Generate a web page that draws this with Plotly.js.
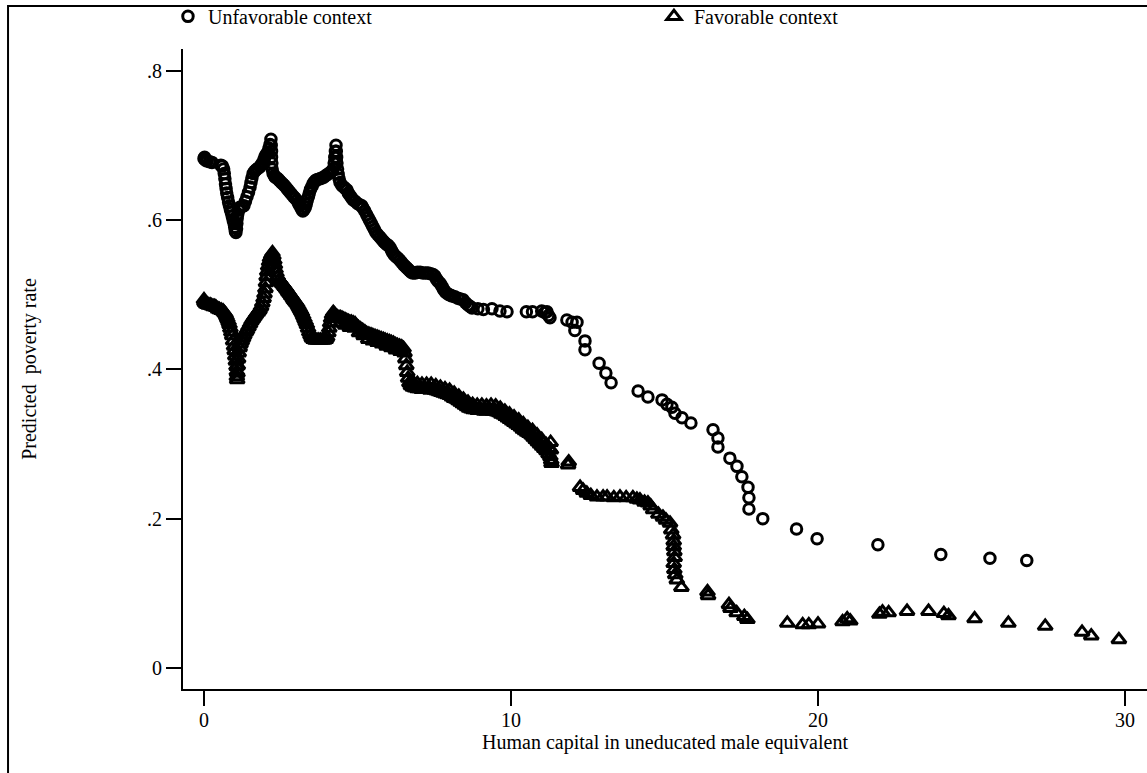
<!DOCTYPE html>
<html>
<head>
<meta charset="utf-8">
<script src="https://cdn.plot.ly/plotly-3.0.1.min.js"></script>
<style>html,body{margin:0;padding:0;background:#fff;}#chart{width:1147px;height:773px;}</style>
</head>
<body>
<div id="chart"></div>
<script>
// Unfavorable context (circles)
const unfavX = [0.00,0.02,0.05,0.10,0.18,0.26,0.55,0.60,0.64,0.66,0.68,0.70,0.72,0.74,0.77,0.80,0.83,0.86,0.89,0.92,0.95,0.98,1.00,1.02,1.04,1.06,1.07,1.08,1.10,1.13,1.17,1.24,1.30,1.35,1.40,1.45,1.50,1.53,1.56,1.60,1.65,1.70,1.76,1.82,1.87,1.92,1.96,1.99,2.03,2.08,2.12,2.15,2.18,2.19,2.20,2.20,2.21,2.22,2.25,2.29,2.32,2.38,2.43,2.47,2.52,2.57,2.62,2.68,2.74,2.80,2.86,2.92,2.97,3.03,3.08,3.12,3.17,3.22,3.26,3.30,3.33,3.36,3.40,3.43,3.47,3.52,3.56,3.60,3.64,3.70,3.78,3.84,3.90,3.96,4.03,4.10,4.16,4.21,4.24,4.26,4.28,4.30,4.31,4.32,4.33,4.35,4.37,4.40,4.43,4.49,4.55,4.60,4.66,4.70,4.75,4.80,4.85,4.92,5.00,5.08,5.14,5.18,5.24,5.30,5.35,5.40,5.45,5.50,5.55,5.60,5.66,5.73,5.79,5.85,5.90,5.95,6.00,6.06,6.11,6.15,6.20,6.25,6.31,6.38,6.44,6.50,6.55,6.60,6.65,6.70,6.75,6.80,6.88,6.95,7.04,7.13,7.22,7.30,7.38,7.46,7.52,7.57,7.62,7.69,7.75,7.80,7.85,7.90,7.97,8.03,8.08,8.17,8.27,8.35,8.44,8.52,8.60,8.67,8.73,8.92,9.10,9.38,9.64,9.87,10.50,10.70,11.00,11.10,11.17,11.22,11.27,11.82,11.99,12.15,12.08,12.41,12.41,12.87,13.09,13.26,14.14,14.46,14.92,15.08,15.24,15.34,15.57,15.86,16.58,16.74,16.74,17.13,17.36,17.52,17.72,17.75,17.75,18.20,19.30,19.97,21.95,24.00,25.60,26.80];
const unfavY = [0.682,0.684,0.680,0.679,0.678,0.677,0.673,0.672,0.668,0.662,0.655,0.648,0.642,0.636,0.630,0.624,0.619,0.614,0.610,0.605,0.600,0.595,0.590,0.585,0.583,0.588,0.595,0.602,0.608,0.613,0.617,0.618,0.619,0.625,0.631,0.637,0.644,0.650,0.656,0.662,0.665,0.667,0.669,0.671,0.674,0.677,0.681,0.685,0.688,0.691,0.696,0.701,0.708,0.700,0.692,0.684,0.676,0.668,0.662,0.659,0.657,0.656,0.654,0.652,0.650,0.648,0.646,0.643,0.640,0.637,0.634,0.631,0.629,0.626,0.622,0.619,0.615,0.612,0.614,0.617,0.621,0.626,0.631,0.636,0.641,0.645,0.649,0.651,0.653,0.654,0.655,0.656,0.657,0.659,0.661,0.663,0.665,0.668,0.676,0.684,0.692,0.700,0.692,0.684,0.676,0.668,0.661,0.655,0.650,0.646,0.644,0.642,0.640,0.636,0.633,0.630,0.627,0.625,0.622,0.620,0.619,0.616,0.612,0.607,0.603,0.599,0.595,0.591,0.587,0.583,0.580,0.577,0.574,0.571,0.569,0.567,0.566,0.563,0.559,0.556,0.553,0.551,0.549,0.546,0.543,0.540,0.538,0.536,0.534,0.532,0.530,0.529,0.529,0.530,0.530,0.529,0.529,0.529,0.528,0.527,0.525,0.521,0.518,0.515,0.511,0.507,0.504,0.502,0.500,0.499,0.498,0.497,0.495,0.494,0.493,0.489,0.486,0.484,0.482,0.481,0.480,0.481,0.478,0.477,0.477,0.477,0.478,0.476,0.477,0.472,0.469,0.466,0.463,0.463,0.452,0.438,0.426,0.408,0.395,0.382,0.371,0.363,0.359,0.353,0.349,0.341,0.335,0.328,0.319,0.308,0.296,0.281,0.270,0.256,0.242,0.228,0.213,0.200,0.186,0.173,0.165,0.152,0.147,0.144];

// Favorable context (triangles)
const favX = [0.00,0.02,0.06,0.10,0.15,0.20,0.25,0.30,0.35,0.39,0.45,0.50,0.56,0.62,0.66,0.70,0.73,0.76,0.80,0.83,0.86,0.89,0.92,0.95,0.98,1.00,1.02,1.04,1.06,1.07,1.07,1.08,1.09,1.10,1.11,1.13,1.16,1.19,1.23,1.27,1.31,1.36,1.40,1.45,1.50,1.55,1.60,1.65,1.70,1.76,1.81,1.86,1.90,1.94,1.97,2.00,2.02,2.04,2.06,2.09,2.12,2.15,2.19,2.23,2.26,2.29,2.31,2.33,2.36,2.40,2.45,2.50,2.54,2.58,2.62,2.66,2.70,2.74,2.78,2.83,2.87,2.91,2.95,2.99,3.03,3.07,3.11,3.15,3.19,3.23,3.27,3.31,3.35,3.39,3.43,3.47,3.51,3.56,3.62,3.68,3.74,3.80,3.86,3.92,3.97,4.01,4.05,4.08,4.11,4.14,4.17,4.21,4.25,4.30,4.35,4.40,4.45,4.50,4.55,4.60,4.65,4.70,4.75,4.80,4.86,4.92,4.97,5.03,5.10,5.17,5.24,5.30,5.37,5.44,5.50,5.57,5.64,5.70,5.77,5.84,5.90,5.97,6.04,6.10,6.17,6.24,6.30,6.37,6.44,6.50,6.53,6.56,6.59,6.62,6.65,6.69,6.74,6.80,6.87,6.95,7.02,7.09,7.16,7.23,7.30,7.37,7.44,7.51,7.58,7.65,7.72,7.79,7.86,7.93,8.00,8.07,8.14,8.21,8.28,8.35,8.42,8.49,8.56,8.63,8.70,8.77,8.84,8.91,8.98,9.05,9.12,9.19,9.26,9.33,9.40,9.47,9.54,9.61,9.68,9.75,9.82,9.89,9.96,10.03,10.10,10.17,10.24,10.31,10.38,10.45,10.52,10.59,10.66,10.73,10.80,10.87,10.94,11.01,11.08,11.15,11.22,11.28,11.31,11.32,11.30,11.29,
  4.45,4.60,4.75,4.90,5.05,5.20,5.35,5.50,5.65,5.80,5.95,6.10,6.25,6.40,6.80,6.95,7.10,7.25,7.40,7.55,7.70,7.85,8.00,8.15,8.30,8.45,8.60,8.75,8.90,9.05,9.20,9.35,9.50,9.65,9.80,9.95,10.10,10.25,10.40,10.55,10.70,10.85,11.00,11.15,11.25,
  11.86,11.88,12.25,12.35,12.47,12.60,12.80,13.00,13.13,13.35,13.55,13.75,13.97,14.10,14.20,14.35,14.46,14.55,14.63,14.80,14.95,15.05,15.18,15.22,15.28,15.30,15.30,15.32,15.33,15.30,15.32,15.35,15.40,15.55,16.40,16.42,17.10,17.15,17.35,17.60,17.70,19.00,19.50,19.70,20.00,20.80,20.95,21.05,22.00,22.10,22.30,22.90,23.60,24.10,24.25,25.10,26.20,27.40,28.60,28.90,29.80];
const favY = [0.493,0.490,0.488,0.487,0.486,0.486,0.485,0.484,0.484,0.483,0.481,0.480,0.479,0.478,0.476,0.474,0.471,0.468,0.464,0.460,0.455,0.450,0.445,0.438,0.431,0.425,0.418,0.411,0.404,0.397,0.390,0.386,0.395,0.405,0.414,0.422,0.429,0.434,0.438,0.442,0.446,0.450,0.453,0.457,0.461,0.465,0.468,0.471,0.474,0.477,0.480,0.484,0.489,0.495,0.501,0.508,0.516,0.524,0.531,0.538,0.544,0.549,0.553,0.556,0.552,0.546,0.540,0.534,0.529,0.524,0.520,0.517,0.515,0.513,0.511,0.509,0.507,0.504,0.502,0.499,0.497,0.494,0.492,0.490,0.488,0.485,0.482,0.479,0.476,0.472,0.468,0.464,0.460,0.455,0.450,0.446,0.442,0.440,0.439,0.439,0.439,0.439,0.439,0.439,0.440,0.443,0.449,0.455,0.462,0.468,0.473,0.476,0.474,0.471,0.470,0.469,0.469,0.468,0.467,0.466,0.465,0.464,0.463,0.463,0.462,0.461,0.458,0.456,0.454,0.452,0.450,0.448,0.447,0.446,0.445,0.444,0.443,0.442,0.441,0.440,0.439,0.438,0.437,0.436,0.435,0.433,0.432,0.431,0.430,0.428,0.422,0.414,0.405,0.396,0.388,0.382,0.378,0.376,0.375,0.374,0.374,0.373,0.373,0.373,0.373,0.372,0.373,0.372,0.371,0.370,0.369,0.368,0.367,0.366,0.365,0.363,0.361,0.360,0.358,0.356,0.354,0.352,0.350,0.348,0.347,0.346,0.346,0.345,0.345,0.345,0.344,0.344,0.345,0.345,0.344,0.344,0.343,0.342,0.340,0.339,0.337,0.335,0.333,0.331,0.329,0.327,0.325,0.323,0.320,0.318,0.316,0.314,0.312,0.309,0.306,0.303,0.300,0.297,0.294,0.291,0.287,0.283,0.278,0.274,0.292,0.302,
  0.462,0.459,0.456,0.455,0.449,0.445,0.440,0.438,0.436,0.434,0.431,0.429,0.426,0.424,0.383,0.381,0.380,0.380,0.380,0.378,0.376,0.374,0.372,0.368,0.364,0.360,0.356,0.353,0.352,0.352,0.351,0.352,0.351,0.348,0.344,0.340,0.336,0.332,0.327,0.322,0.318,0.312,0.306,0.299,0.294,
  0.272,0.276,0.242,0.238,0.234,0.231,0.229,0.229,0.229,0.228,0.229,0.228,0.228,0.226,0.225,0.222,0.221,0.217,0.212,0.206,0.202,0.198,0.194,0.185,0.178,0.170,0.163,0.156,0.148,0.140,0.132,0.125,0.118,0.108,0.102,0.097,0.085,0.080,0.074,0.069,0.065,0.060,0.058,0.058,0.059,0.062,0.066,0.063,0.072,0.075,0.074,0.076,0.076,0.073,0.070,0.066,0.060,0.056,0.048,0.043,0.038];

const xTicks = [0, 10, 20, 30];
const yTickVals = [0, 0.2, 0.4, 0.6, 0.8];
const yTickText = ['0', '.2', '.4', '.6', '.8'];
const seriesNames = ['Unfavorable context', 'Favorable context'];

const FONT = 'Liberation Serif, Times New Roman, serif';

const traces = [
  {
    x: unfavX, y: unfavY, type: 'scatter', mode: 'markers', name: seriesNames[0],
    marker: {symbol: 'circle-open', size: 10.5, color: '#000', line: {width: 3, color: '#000'}}
  },
  {
    x: favX, y: favY, type: 'scatter', mode: 'markers', name: seriesNames[1],
    marker: {symbol: 'triangle-up-open', size: 12.5, color: '#000', line: {width: 3, color: '#000'}}
  }
];

const layout = {
  width: 1147, height: 773,
  paper_bgcolor: '#fff', plot_bgcolor: '#fff',
  margin: {l: 183, r: 0, t: 49, b: 84, autoexpand: false},
  font: {family: FONT, size: 20, color: '#000'},
  showlegend: true,
  legend: {
    orientation: 'h', x: -0.0156, xanchor: 'left', y: 1.051, yanchor: 'middle',
    font: {family: FONT, size: 20, color: '#000'},
    entrywidth: 441, entrywidthmode: 'pixels',
    bgcolor: 'rgba(0,0,0,0)', borderwidth: 0, itemclick: false
  },
  xaxis: {
    range: [-0.684, 30.716], tickvals: xTicks, ticktext: xTicks.map(String),
    showline: true, linewidth: 2, linecolor: '#000', mirror: false,
    ticks: 'outside', ticklen: 15, tickwidth: 2, tickcolor: '#000',
    ticklabelstandoff: -3,
    showgrid: false, zeroline: false,
    tickfont: {family: FONT, size: 20, color: '#000'},
    title: {text: 'Human capital in uneducated male equivalent', font: {family: FONT, size: 20, color: '#000'}, standoff: 0}
  },
  yaxis: {
    range: [-0.0281, 0.8288], tickvals: yTickVals, ticktext: yTickText,
    showline: true, linewidth: 2, linecolor: '#000', mirror: false,
    ticks: 'outside', ticklen: 15, tickwidth: 2, tickcolor: '#000',
    showgrid: false, zeroline: false,
    tickfont: {family: FONT, size: 20, color: '#000'},
    title: {text: 'Predicted  poverty rate', font: {family: FONT, size: 20, color: '#000'}, standoff: 105}
  },
  shapes: [{
    type: 'rect', xref: 'paper', yref: 'paper',
    x0: -0.1815, x1: 1.3, y0: -0.4, y1: 1.0672,
    line: {color: '#000', width: 2}, fillcolor: 'rgba(0,0,0,0)', layer: 'above'
  }]
};

Plotly.newPlot('chart', traces, layout, {displayModeBar: false, staticPlot: true});
</script>
</body>
</html>
